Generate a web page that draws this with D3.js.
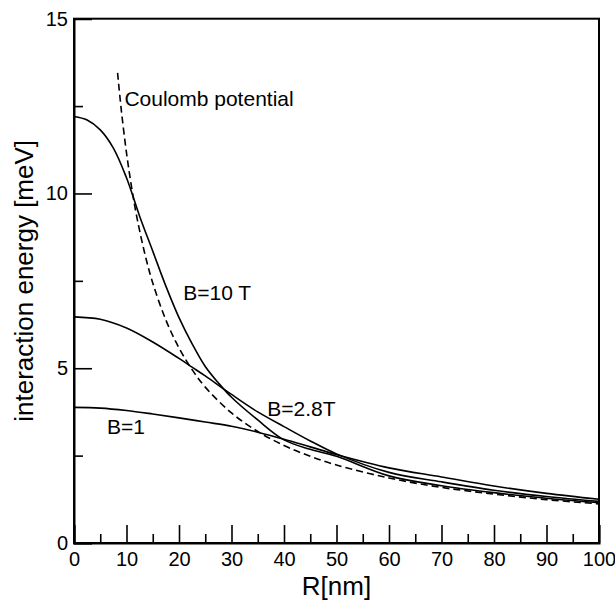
<!DOCTYPE html>
<html>
<head>
<meta charset="utf-8">
<script src="https://cdn.jsdelivr.net/npm/d3@7"></script>
<style>
  html, body { margin: 0; padding: 0; background: #fff; }
  svg text { font-family: "Liberation Sans", Arial, Helvetica, sans-serif; fill: #000; }
</style>
</head>
<body>
<div id="chart"></div>
<script>
// values (R in nm, energy in meV)
const rB10 = [0, 2.5, 5, 7.5, 10, 12.5, 15, 17.5, 20, 22.5, 25, 27.5, 30, 35, 40, 45, 50, 60, 70, 80, 90, 100];
const eB10 = [12.2, 12.1, 11.82, 11.3, 10.45, 9.35, 8.35, 7.35, 6.45, 5.7, 5.05, 4.58, 4.17, 3.52, 2.95, 2.68, 2.48, 1.92, 1.64, 1.44, 1.28, 1.15];

const rB28 = [0, 5, 10, 15, 20, 22.5, 25, 30, 35, 40, 45, 50, 60, 70, 80, 90, 100];
const eB28 = [6.47, 6.4, 6.15, 5.75, 5.28, 5.03, 4.78, 4.25, 3.75, 3.33, 2.92, 2.55, 2.02, 1.75, 1.51, 1.33, 1.19];

const rB1 = [0, 5, 10, 15, 20, 25, 30, 35, 40, 45, 50, 60, 70, 80, 90, 100];
const eB1 = [3.88, 3.86, 3.79, 3.69, 3.58, 3.46, 3.34, 3.17, 2.97, 2.75, 2.53, 2.15, 1.89, 1.63, 1.42, 1.25];

const rCoul = [8.3, 9, 10, 11, 12, 13.5, 15, 17.5, 20, 22.5, 25, 30, 35, 40, 45, 50, 60, 70, 80, 90, 100];
const eCoul = [13.45, 12.4, 11.16, 10.15, 9.3, 8.27, 7.44, 6.38, 5.58, 4.96, 4.46, 3.72, 3.19, 2.79, 2.48, 2.23, 1.86, 1.59, 1.4, 1.24, 1.12];

const xMajor = [0, 10, 20, 30, 40, 50, 60, 70, 80, 90, 100];
const xMinor = [5, 15, 25, 35, 45, 55, 65, 75, 85, 95];
const yMajor = [0, 5, 10, 15];
const yMinor = [2.5, 7.5, 12.5];

const labels = [
  { text: "Coulomb potential", r: 9.6, e: 12.5 },
  { text: "B=10 T", r: 20.8, e: 6.95 },
  { text: "B=2.8T", r: 36.8, e: 3.64 },
  { text: "B=1", r: 6.3, e: 3.12 }
];

const width = 615, height = 604;
const margin = { left: 74, right: 16, top: 18.7, bottom: 61 };

const svg = d3.select("#chart").append("svg")
  .attr("width", width)
  .attr("height", height);

const x = d3.scaleLinear().domain([0, 100]).range([margin.left, width - margin.right]);
const y = d3.scaleLinear().domain([0, 15]).range([height - margin.bottom, margin.top]);

// frame
svg.append("rect")
  .attr("x", x(0)).attr("y", y(15))
  .attr("width", x(100) - x(0)).attr("height", y(0) - y(15))
  .attr("fill", "none").attr("stroke", "#000").attr("stroke-width", 2);

// axes, ticks point inward
svg.append("g")
  .attr("transform", `translate(0,${y(0)})`)
  .call(d3.axisBottom(x).tickValues(xMajor).tickSize(-18).tickPadding(9).tickFormat(d3.format("d")));
svg.append("g")
  .attr("transform", `translate(0,${y(0)})`)
  .call(d3.axisBottom(x).tickValues(xMinor).tickSize(-9).tickFormat(""))
  .call(g => g.select(".domain").remove());

svg.append("g")
  .attr("transform", `translate(${x(0)},0)`)
  .call(d3.axisLeft(y).tickValues(yMajor).tickSize(-18).tickPadding(6).tickFormat(d3.format("d")));
svg.append("g")
  .attr("transform", `translate(${x(0)},0)`)
  .call(d3.axisLeft(y).tickValues(yMinor).tickSize(-9).tickFormat(""))
  .call(g => g.select(".domain").remove());

svg.selectAll(".tick line").attr("stroke", "#000").attr("stroke-width", 1.6);
svg.selectAll(".domain").attr("stroke", "#000").attr("stroke-width", 2);
svg.selectAll(".tick text").attr("font-size", 20).style("font-family", null);

// axis titles
svg.append("text")
  .attr("x", (x(0) + x(100)) / 2).attr("y", 595)
  .attr("text-anchor", "middle").attr("font-size", 26)
  .text("R[nm]");
svg.append("text")
  .attr("transform", `translate(33,${(y(0) + y(15)) / 2}) rotate(-90)`)
  .attr("text-anchor", "middle").attr("font-size", 26)
  .text("interaction energy [meV]");

// curves
const line = d3.line()
  .x(d => x(d[0]))
  .y(d => y(d[1]))
  .curve(d3.curveCatmullRom.alpha(0.5));

const series = [
  { r: rB10, e: eB10, dash: null },
  { r: rB28, e: eB28, dash: null },
  { r: rB1, e: eB1, dash: null },
  { r: rCoul, e: eCoul, dash: "7,4" }
];

svg.append("g").selectAll("path")
  .data(series)
  .join("path")
  .attr("d", s => line(d3.zip(s.r, s.e)))
  .attr("fill", "none")
  .attr("stroke", "#000")
  .attr("stroke-width", 1.6)
  .attr("stroke-dasharray", s => s.dash);

// curve labels
svg.append("g").selectAll("text")
  .data(labels)
  .join("text")
  .attr("x", d => x(d.r))
  .attr("y", d => y(d.e))
  .attr("font-size", 21)
  .text(d => d.text);
</script>
</body>
</html>
